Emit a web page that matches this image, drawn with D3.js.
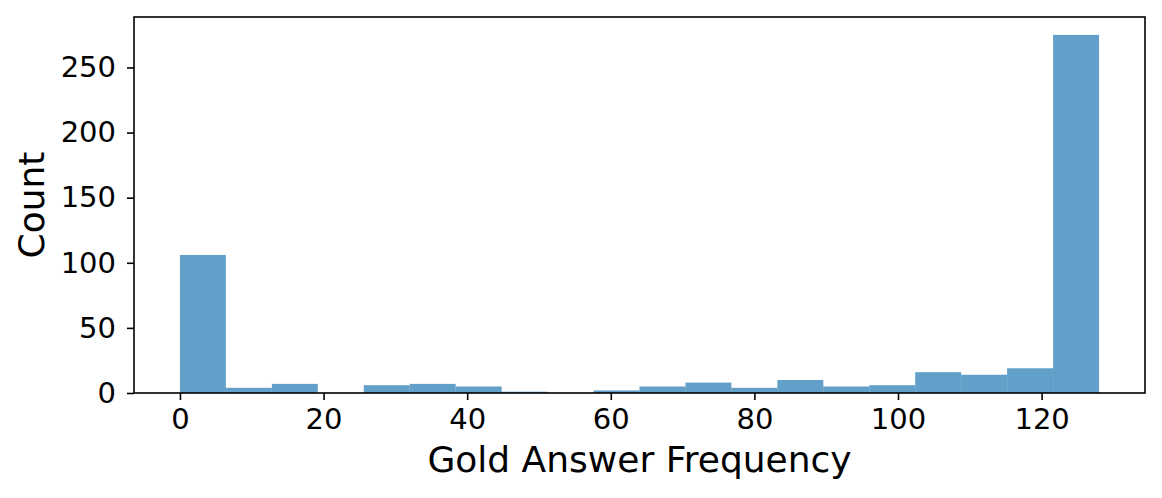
<!DOCTYPE html>
<html>
<head>
<meta charset="utf-8">
<script src="https://cdn.jsdelivr.net/npm/d3@7"></script>
<style>
  body { margin: 0; background: #fff; }
  svg { display: block; font-family: "DejaVu Sans", sans-serif; }
</style>
</head>
<body>
<div id="chart"></div>
<script>
// bin edges (20 equal bins over 0..128) and counts
var binEdges = [0, 6.4, 12.8, 19.2, 25.6, 32, 38.4, 44.8, 51.2, 57.6, 64,
                70.4, 76.8, 83.2, 89.6, 96, 102.4, 108.8, 115.2, 121.6, 128];
var counts = [106, 4, 7, 0, 6, 7, 5, 1, 0, 2, 5, 8, 4, 10, 5, 6, 16, 14, 19, 275];
var xTicks = [0, 20, 40, 60, 80, 100, 120];
var yTicks = [0, 50, 100, 150, 200, 250];

var width = 1162, height = 498,
    margin = {top: 17, right: 17, bottom: 105, left: 134};

var bins = counts.map(function(c, i) {
  return {x0: binEdges[i], x1: binEdges[i + 1], n: c};
});

var svg = d3.select("#chart").append("svg")
    .attr("width", width)
    .attr("height", height);

var pad = (binEdges[binEdges.length - 1] - binEdges[0]) * 0.05;
var x = d3.scaleLinear()
    .domain([binEdges[0] - pad, binEdges[binEdges.length - 1] + pad])
    .range([margin.left, width - margin.right]);
var y = d3.scaleLinear()
    .domain([0, d3.max(counts) * 1.05])
    .range([height - margin.bottom, margin.top]);

svg.selectAll(".bar")
    .data(bins)
  .enter().append("rect")
    .attr("class", "bar")
    .attr("x", function(d) { return x(d.x0); })
    .attr("width", function(d) { return x(d.x1) - x(d.x0); })
    .attr("y", function(d) { return y(d.n); })
    .attr("height", function(d) { return y(0) - y(d.n); })
    .attr("fill", "#1f77b4")
    .attr("fill-opacity", 0.7);

var xAxis = svg.append("g")
    .attr("transform", "translate(0," + y(0) + ")")
    .call(d3.axisBottom(x).tickValues(xTicks).tickSize(7).tickPadding(8));
var yAxis = svg.append("g")
    .attr("transform", "translate(" + x.range()[0] + ",0)")
    .call(d3.axisLeft(y).tickValues(yTicks).tickSize(7).tickPadding(11));

[xAxis, yAxis].forEach(function(a) {
  a.attr("font-family", "DejaVu Sans, sans-serif").attr("font-size", 29);
  a.select(".domain").remove();
  a.selectAll("line").attr("stroke", "#000").attr("stroke-width", 1.6);
  a.selectAll("text").attr("fill", "#000");
});

// frame
svg.append("rect")
    .attr("x", x.range()[0])
    .attr("y", margin.top)
    .attr("width", x.range()[1] - x.range()[0])
    .attr("height", y(0) - margin.top)
    .attr("fill", "none")
    .attr("stroke", "#000")
    .attr("stroke-width", 1.6);

svg.append("text")
    .attr("x", (x.range()[0] + x.range()[1]) / 2)
    .attr("y", 472)
    .attr("text-anchor", "middle")
    .style("font-size", "36px")
    .text("Gold Answer Frequency");

svg.append("text")
    .attr("transform", "translate(44," + (margin.top + y(0)) / 2 + ") rotate(-90)")
    .attr("text-anchor", "middle")
    .style("font-size", "36px")
    .text("Count");
</script>
</body>
</html>
